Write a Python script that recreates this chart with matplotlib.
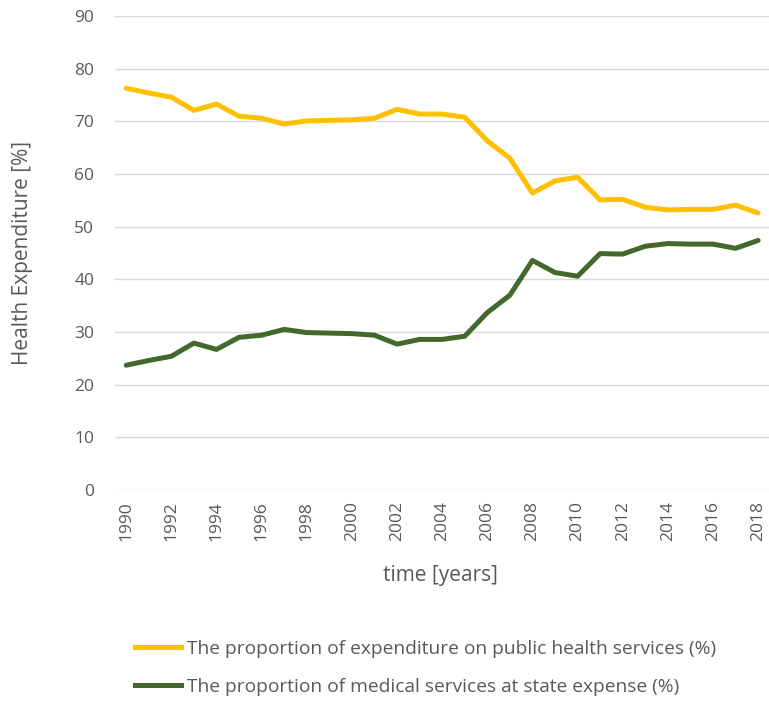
import matplotlib.pyplot as plt
from matplotlib.lines import Line2D

years = list(range(1990, 2019))
public_health = [76.3, 75.4, 74.6, 72.1, 73.3, 71.0, 70.6, 69.5, 70.1, 70.2,
                 70.3, 70.6, 72.3, 71.4, 71.4, 70.8, 66.3, 63.0, 56.4, 58.7,
                 59.4, 55.1, 55.2, 53.7, 53.2, 53.3, 53.3, 54.1, 52.6]
state_expense = [23.7, 24.6, 25.4, 27.9, 26.7, 29.0, 29.4, 30.5, 29.9, 29.8,
                 29.7, 29.4, 27.7, 28.6, 28.6, 29.2, 33.7, 37.0, 43.6, 41.3,
                 40.6, 44.9, 44.8, 46.3, 46.8, 46.7, 46.7, 45.9, 47.4]
legend_labels = ["The proportion of expenditure on public health services (%)",
                 "The proportion of medical services at state expense (%)"]

yellow = "#ffc000"
green = "#43682b"
grey = "#595959"

plt.rcParams['font.family'] = ['Open Sans', 'DejaVu Sans']

fig = plt.figure(figsize=(7.69, 7.01), dpi=100)
ax = fig.add_axes([0.1495, 0.301, 0.851, 0.676])

ax.plot(years, public_health, color=yellow, lw=3.6, solid_capstyle='round')
ax.plot(years, state_expense, color=green, lw=3.6, solid_capstyle='round')

ax.set_xlim(1989.5, 2018.5)
ax.set_ylim(0, 90)
ax.set_yticks(range(0, 91, 10))
ax.set_xticks(range(1990, 2019, 2))
ax.tick_params(axis='x', labelrotation=90, length=0, pad=8, labelsize=12.5, colors=grey)
ax.tick_params(axis='y', length=0, pad=15, labelsize=12.5, colors=grey)
ax.grid(axis='y', color='#d9d9d9', lw=1)
ax.set_axisbelow(True)
for s in ax.spines.values():
    s.set_visible(False)

ax.set_ylabel("Health Expenditure [%]", fontsize=15, color=grey)
ax.yaxis.set_label_coords(-0.125, 0.5)
fig.text(0.573, 0.179, "time [years]", ha='center', va='center', fontsize=15, color=grey)

handles = [Line2D([], [], color=yellow, lw=3.6),
           Line2D([], [], color=green, lw=3.6)]
fig.legend(handles, legend_labels, loc='center left',
           bbox_to_anchor=(0.176, 0.047), frameon=False, fontsize=13.75,
           labelcolor=grey, handlelength=2.4, handletextpad=0.3,
           labelspacing=1.05, borderpad=0, borderaxespad=0)

fig.savefig("out.png", dpi=100)
